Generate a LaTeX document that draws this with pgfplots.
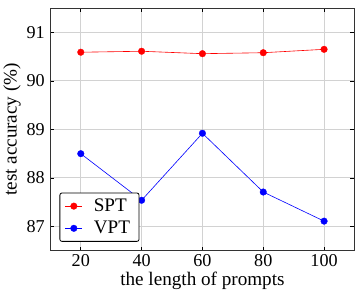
\documentclass[border=0pt]{standalone}
\usepackage{fontspec}
\setmainfont{Liberation Serif}
\usepackage{pgfplots}
\pgfplotsset{compat=1.18}
\begin{document}
\begin{tikzpicture}
\begin{axis}[
  scale only axis, width=302pt, height=241pt,
  xmin=10, xmax=110, ymin=86.5, ymax=91.5,
  xtick={20,40,60,80,100}, ytick={87,88,89,90,91},
  tick align=inside, tick style={black, line width=0.6pt}, major tick length=4pt,
  axis line style={line width=1pt, black!80},
  grid=major, grid style={gray!35, line width=1pt},
  xlabel={the length of prompts}, ylabel={test accuracy (\%)},
  xlabel style={yshift=1pt}, ylabel style={yshift=-1pt},
  yticklabel style={xshift=-2pt},
  /pgf/number format/assume math mode=true,
  tick label style={font=\fontsize{18}{21}\selectfont},
  label style={font=\fontsize{19}{22}\selectfont},
  legend style={at={(0.03,0.037)}, anchor=south west, draw=black, line width=0.8pt, rounded corners=2pt, font=\fontsize{19}{22}\selectfont, row sep=4pt, inner xsep=5pt, inner ysep=4pt,
    nodes={inner xsep=4pt},
    /tikz/every odd column/.append style={column sep=7pt}},
  legend cell align=left,
]
\addplot[red, line width=0.6pt, mark=*, mark size=3.3pt, mark options={line width=0.3pt}] coordinates {(20,90.59) (40,90.61) (60,90.56) (80,90.58) (100,90.65)};
\addlegendentry{SPT}
\addplot[blue, line width=0.6pt, mark=*, mark size=3.3pt, mark options={line width=0.3pt}] coordinates {(20,88.50) (40,87.54) (60,88.92) (80,87.71) (100,87.11)};
\addlegendentry{VPT}
\end{axis}
\path (current axis.north east) ++(0,8pt);
\end{tikzpicture}
\end{document}
